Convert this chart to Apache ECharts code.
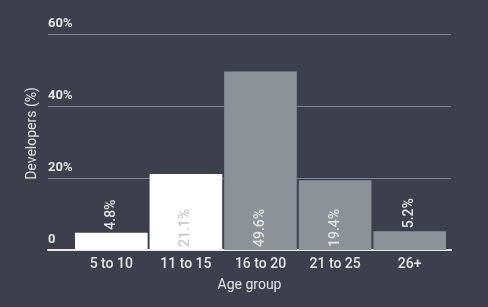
<!DOCTYPE html>
<html>
<head>
<meta charset="utf-8">
<script src="https://cdn.jsdelivr.net/npm/echarts@6/dist/echarts.min.js"></script>
<style>
html,body{margin:0;padding:0;background:#3d404c;}
#c{width:488px;height:307px;}
</style>
</head>
<body>
<div id="c"></div>
<script>
const categories = ['5 to 10', '11 to 15', '16 to 20', '21 to 25', '26+'];
const values = [4.8, 21.1, 49.6, 19.4, 5.2];
const yTicks = [0, 20, 40, 60];
const yTickLabels = ['0', '20%', '40%', '60%'];

const WHITE = '#ffffff', GREY = '#8d9198';
const barData = values.map((v, i) => {
  const white = i < 2;
  const outside = v < 10;
  return {
    value: v,
    itemStyle: { color: white ? WHITE : GREY },
    label: {
      show: true,
      rotate: 90,
      position: outside ? 'top' : 'insideBottom',
      distance: 3,
      align: 'left',
      verticalAlign: 'middle',
      color: outside ? '#e6e6e6' : (white ? '#c9c9c9' : '#e2e2e2'),
      fontSize: 14,
      fontWeight: 500,
      fontFamily: 'Roboto',
      formatter: v.toFixed(1) + '%'
    }
  };
});

const chart = echarts.init(document.getElementById('c'));
chart.setOption({
  backgroundColor: '#3d404c',
  animation: false,
  textStyle: { fontFamily: 'Roboto' },
  grid: [
    { left: 74, right: 41, top: 34, bottom: 57 },
    { left: 48, right: 37, top: 34, bottom: 57 }
  ],
  xAxis: [
    {
      type: 'category', gridIndex: 0, data: categories,
      axisLine: { show: false }, axisTick: { show: false },
      axisLabel: { color: '#e4e4e4', fontSize: 14, fontWeight: 500, margin: 7, fontFamily: 'Roboto' }
    },
    {
      type: 'value', gridIndex: 1, min: 0, max: 1,
      axisLine: { show: true, lineStyle: { color: '#e8e8ea', width: 2 } },
      axisTick: { show: false }, axisLabel: { show: false }, splitLine: { show: false },
      name: 'Age group', nameLocation: 'middle', nameGap: 28,
      nameTextStyle: { color: '#e4e4e4', fontSize: 14, fontFamily: 'Roboto' }
    }
  ],
  yAxis: [
    {
      type: 'value', gridIndex: 0, min: 0, max: 60, interval: 20,
      show: false, splitLine: { show: false }
    },
    {
      type: 'value', gridIndex: 1, min: 0, max: 60, interval: 20,
      axisLine: { show: false }, axisTick: { show: false },
      splitLine: { show: true, lineStyle: { color: '#7e838f', width: 1 } },
      axisLabel: {
        inside: true, margin: 0, verticalAlign: 'bottom', padding: [0, 0, 4, 0],
        color: '#e4e4e4', fontSize: 13, fontWeight: 'bold', fontFamily: 'Roboto',
        formatter: (v) => yTickLabels[yTicks.indexOf(v)]
      },
      name: 'Developers (%)', nameLocation: 'middle', nameGap: 9, nameMoveOverlap: false,
      nameTextStyle: { color: '#e4e4e4', fontSize: 14, fontFamily: 'Roboto', padding: [0, 0, 0, 17] }
    }
  ],
  series: [
    {
      type: 'bar', xAxisIndex: 0, yAxisIndex: 0, data: barData,
      barCategoryGap: 2, z: 3
    }
  ]
});
</script>
</body>
</html>
